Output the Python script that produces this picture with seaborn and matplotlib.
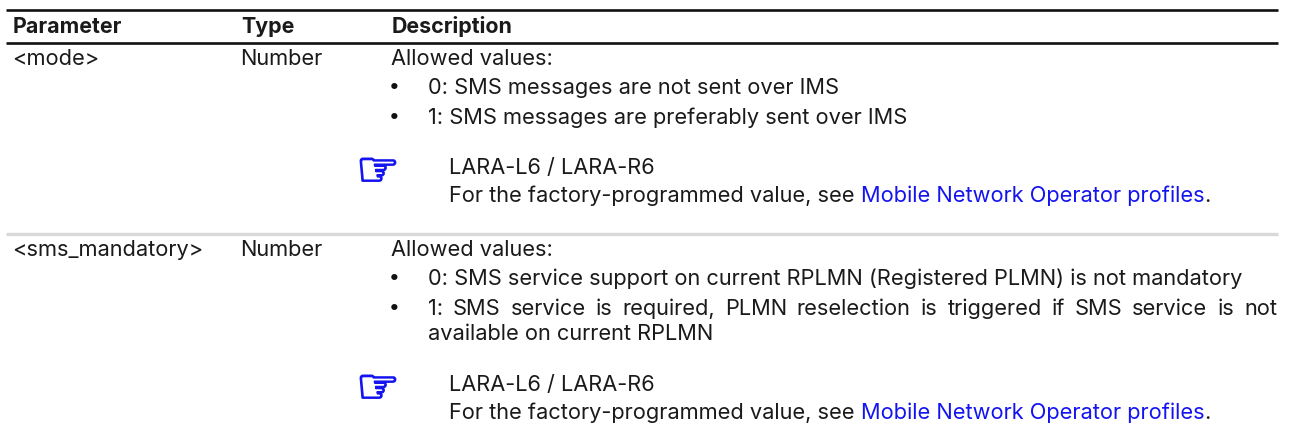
import matplotlib
matplotlib.use("Agg")
import matplotlib.pyplot as plt
import matplotlib.patheffects as pe
import seaborn as sns

# ---- content ----
headers = ["Parameter", "Type", "Description"]
param_names = ["<mode>", "<sms_mandatory>"]
param_types = ["Number", "Number"]
allowed = "Allowed values:"
mode_items = ["0: SMS messages are not sent over IMS", "1: SMS messages are preferably sent over IMS"]
sms_item0 = "0: SMS service support on current RPLMN (Registered PLMN) is not mandatory"
sms_item1a = "1: SMS service is required, PLMN reselection is triggered if SMS service is not"
sms_item1b = "available on current RPLMN"
note_title = "LARA-L6 / LARA-R6"
note_prefix = "For the factory-programmed value, see "
note_link = "Mobile Network Operator profiles"
note_suffix = "."

sns.set_theme(style="white")
plt.rcParams["font.family"] = ["Inter", "DejaVu Sans"]
FS = 15.7
FS_BOLD = 15.4
BLUE = "#1414f0"
INK = "#1a1a1a"

fig = plt.figure(figsize=(12.91, 4.44), dpi=100)
ax = fig.add_axes([0, 0, 1, 1])
ax.set_xlim(0, 1291)
ax.set_ylim(444, 0)
ax.axis("off")

def put(x, y, s, **kw):
    kw.setdefault("color", INK)
    kw.setdefault("fontsize", FS)
    return ax.text(x, y, s, va="baseline", ha="left", **kw)

def width(t):
    r = fig.canvas.get_renderer()
    return t.get_window_extent(r).width

def justified(x0, x1, y, s):
    words = s.split(" ")
    arts = [put(x0, y, w) for w in words]
    ws = [width(a) for a in arts]
    gap = (x1 - x0 - sum(ws)) / (len(words) - 1)
    x = x0
    for a, w in zip(arts, ws):
        a.set_x(x)
        x += w + gap

def note(y0):
    h = ax.text(378, y0 - 2, "\u261e", color=BLUE, fontsize=35, family="DejaVu Sans",
                ha="center", va="center")
    h.set_path_effects([pe.withStroke(linewidth=1.2, foreground=BLUE)])
    put(449, y0, note_title)
    y1 = y0 + 28
    a = put(449, y1, note_prefix)
    x = 449 + width(a)
    b = put(x, y1, note_link, color=BLUE)
    put(x + width(b), y1, note_suffix)

def bullet(y):
    ax.text(394, y - 6, "\u2022", family="DejaVu Sans", fontsize=FS, color="#111111", ha="center", va="center")

fig.canvas.draw()
ax.hlines([10, 43], 6, 1278, color="#111111", lw=1.9)
ax.hlines([234], 6, 1278, color="#d9d9d9", lw=2.4)

col_x = [12, 240, 391]
for x, h in zip(col_x, headers):
    put(x + 1, 33, h, fontweight="bold", fontsize=FS_BOLD)

put(col_x[0], 65, param_names[0])
put(col_x[1], 65, param_types[0])
put(col_x[2], 65, allowed)
for y, s in zip([94, 124], mode_items):
    bullet(y)
    put(428, y, s)
note(174)

put(col_x[0], 256, param_names[1])
put(col_x[1], 256, param_types[1])
put(col_x[2], 256, allowed)
bullet(285)
put(428, 285, sms_item0)
bullet(315)
justified(428, 1277, 315, sms_item1a)
put(428, 340, sms_item1b)
note(391)

fig.savefig("out.png", dpi=100)
